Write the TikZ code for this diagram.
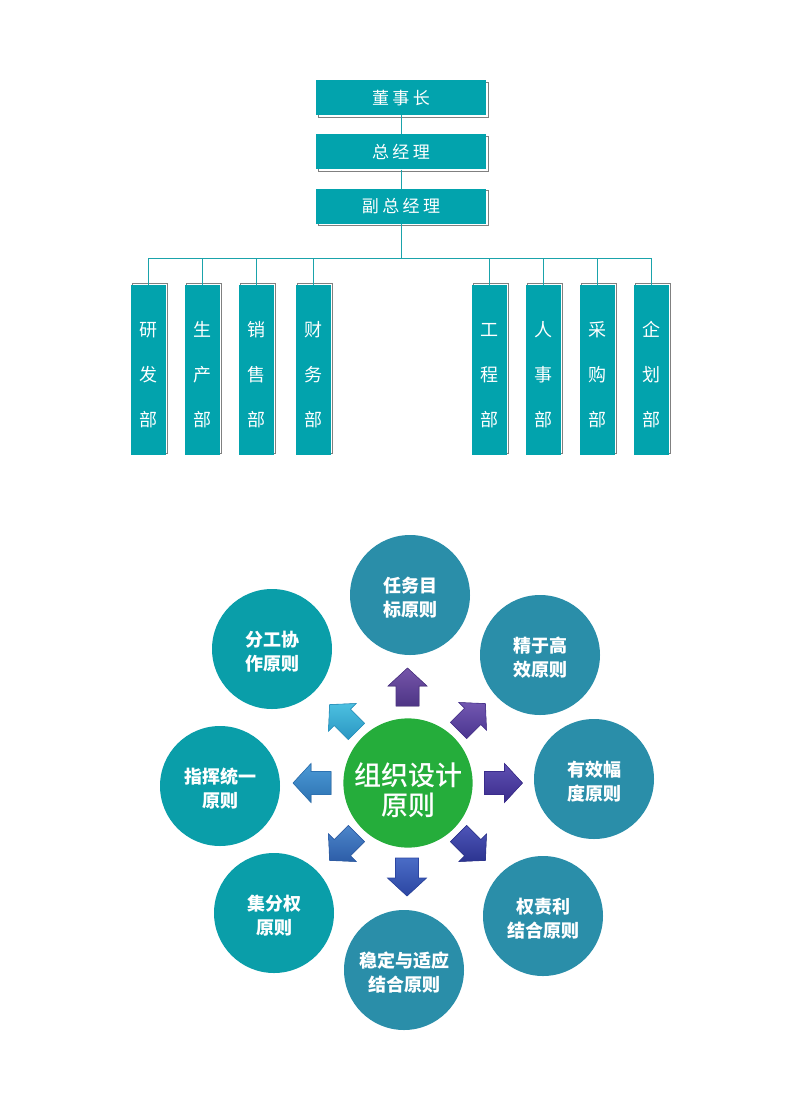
\documentclass[tikz,border=0pt]{standalone}
\usepackage{fontspec}
\setmainfont{Noto Sans CJK SC}
\newfontfamily\widecjk[LetterSpace=20]{Noto Sans CJK SC}
\newfontfamily\midcjk{Noto Sans CJK SC Medium}
\usepackage{tikz}
\usetikzlibrary{positioning, shadows}

\definecolor{boxteal}{HTML}{02A3AD}
\definecolor{lineteal}{HTML}{1AA3AB}
\definecolor{edgegray}{HTML}{808080}
\definecolor{tealball}{HTML}{0A9EA9}
\definecolor{blueball}{HTML}{2A8EA9}
\definecolor{coregreen}{HTML}{25AD3B}

\tikzset{
  post/.style={fill=boxteal, text=white, minimum width=170pt, minimum height=35pt,
    inner sep=0pt, text height=14pt, text depth=1pt, font=\widecjk\fontsize{17}{20}\selectfont,
    copy shadow={shadow xshift=2pt, shadow yshift=-2pt, fill=none, draw=edgegray, line width=0.9pt}},
  dept/.style={fill=boxteal, text=white, minimum width=35pt, minimum height=170pt,
    inner sep=0pt, align=center, text height=114pt, text depth=2pt, font=\fontsize{18}{45}\selectfont,
    copy shadow={shadow xshift=2pt, shadow yshift=1.5pt, fill=none, draw=edgegray, line width=0.9pt}},
  ball/.style={circle, minimum size=120pt, inner sep=0pt, text=white, align=center,
    text height=44pt, text depth=2pt, font=\bfseries\fontsize{18}{24}\selectfont},
  link/.style={draw=lineteal, line width=0.9pt}
}

\begin{document}
\begin{tikzpicture}[x=1pt, y=-1pt]
\useasboundingbox (0,0) rectangle (800,1100);

% chart
\node[post] (chair) at (401,97.5) {董事长};
\node[post, below=19pt of chair] (gm) {总经理};
\node[post, below=19pt of gm] (vgm) {副总经理};
\coordinate (bus) at (401,258);

\foreach \x/\n/\t in {148/d1/研\\发\\部, 202/d2/生\\产\\部, 256/d3/销\\售\\部, 313/d4/财\\务\\部,
                      489/d5/工\\程\\部, 543/d6/人\\事\\部, 597/d7/采\\购\\部, 651/d8/企\\划\\部}
  \node[dept] (\n) at (\x,370) {\t};

\draw[link] (chair) -- (gm);
\draw[link] (gm) -- (vgm);
\draw[link] (vgm) -- (bus);
\draw[link] (d1.north |- bus) -- (d8.north |- bus);
\foreach \n in {d1,d2,d3,d4,d5,d6,d7,d8}
  \draw[link] (\n.north) -- (\n.north |- bus);

% principles
\node[ball, fill=coregreen, minimum size=126pt, text height=68pt, text depth=3pt,
  font=\midcjk\fontsize{27}{30}\selectfont] (core) at (408,783) {组织设计\\原则};
\node[ball, fill=blueball] (p1) at (410,595) {任务目\\标原则};
\node[ball, fill=blueball] (p2) at (540,655) {精于高\\效原则};
\node[ball, fill=blueball] (p3) at (594,779) {有效幅\\度原则};
\node[ball, fill=blueball] (p4) at (543,916) {权责利\\结合原则};
\node[ball, fill=blueball] (p5) at (404,970) {稳定与适应\\结合原则};
\node[ball, fill=tealball] (p6) at (274,913) {集分权\\原则};
\node[ball, fill=tealball] (p7) at (220,786) {指挥统一\\原则};
\node[ball, fill=tealball] (p8) at (272,649) {分工协\\作原则};

% arrows round the core
\foreach \px/\py/\rot/\ca/\cb in {407.5/687/0/7555AA/4E3585, 472/717/-45/7257B0/4A3590,
    503.5/783/-90/5F50B2/3A2C8C, 472/847/-135/4E55B8/2C3490, 407/877/180/4A6CC6/2C46A2,
    343/847/135/4C86CA/2D5DA8, 312/783/90/4C9AD6/2D72B2, 343/718/45/4CC0E0/2A96C2}{
  \definecolor{arrowtop}{HTML}{\ca}
  \definecolor{arrowbot}{HTML}{\cb}
  \filldraw[top color=arrowtop, bottom color=arrowbot, draw=arrowbot, line width=0.6pt,
    shift={(\px,\py)}, rotate=\rot]
    (0,-19) -- (19.5,-1) -- (11.5,-1) -- (11.5,19) -- (-11.5,19) -- (-11.5,-1) -- (-19.5,-1) -- cycle;
}
\end{tikzpicture}
\end{document}
